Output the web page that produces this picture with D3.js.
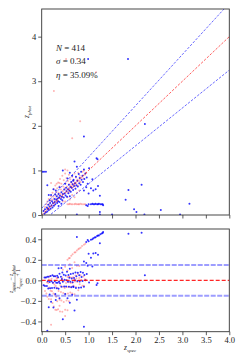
<!DOCTYPE html>
<html>
<head>
<meta charset="utf-8">
<script src="https://cdn.jsdelivr.net/npm/d3@7"></script>
<style>
  body { margin: 0; background: #fff; }
  svg { display: block; }
  text { font-family: "Liberation Serif", "DejaVu Serif", serif; fill: #222; }
</style>
</head>
<body>
<svg width="240" height="360"></svg>
<script>
// spectroscopic vs photometric redshift, two samples [zspec, zphot]
const bluePoints = [
  [0.04,0.09],[0.06,0.03],[0.07,0.13],[0.09,0.06],[0.11,0.17],[0.12,0.08],[0.13,0.14],[0.14,0.23],
  [0.15,0.11],[0.17,0.19],[0.18,0.27],[0.19,0.14],[0.21,0.22],[0.22,0.31],[0.23,0.17],[0.24,0.27],
  [0.26,0.21],[0.27,0.36],[0.28,0.29],[0.29,0.24],[0.31,0.34],[0.32,0.42],[0.33,0.27],[0.34,0.37],
  [0.35,0.31],[0.36,0.47],[0.37,0.39],[0.38,0.29],[0.39,0.43],[0.41,0.36],[0.42,0.51],[0.43,0.41],
  [0.44,0.33],[0.45,0.47],[0.47,0.39],[0.48,0.57],[0.49,0.48],[0.51,0.44],[0.52,0.61],[0.53,0.53],
  [0.54,0.41],[0.56,0.58],[0.57,0.49],[0.58,0.68],[0.59,0.55],[0.61,0.63],[0.62,0.52],[0.63,0.74],
  [0.64,0.61],[0.66,0.69],[0.67,0.56],[0.68,0.79],[0.69,0.65],[0.71,0.71],[0.72,0.59],[0.73,0.86],
  [0.74,0.67],[0.76,0.77],[0.77,0.64],[0.79,0.92],[0.8,0.71],[0.81,0.83],[0.83,0.68],[0.84,0.97],
  [0.85,0.79],[0.87,0.88],[0.88,0.74],[0.9,1.02],[0.91,0.81],[0.93,0.93],[0.96,0.84],[0.29,0.46],
  [0.42,0.25],[0.5,0.7],[0.6,0.42],[0.36,0.2],[0.17,0.33],[0.65,0.88],[0.67,0.77],[1.01,1.05],
  [1.19,1.25],[1.17,1.27],[0.02,0.97],[0.05,0.97],[0.09,0.97],
  [1.0,0.48],[1.05,0.6],[0.95,0.62],[1.1,0.55],[1.2,0.65],[0.98,0.7],[1.08,0.8],[0.9,0.55],
  [1.0,0.24],[1.05,0.24],[1.08,0.25],[1.1,0.24],[1.13,0.24],[1.15,0.25],[1.18,0.24],[1.2,0.24],
  [1.22,0.25],[1.25,0.24],[1.28,0.24],[1.3,0.24],[0.95,0.22],[0.98,0.2],
  [2.13,0.68],[1.85,0.56],[1.79,0.34],[1.24,0.43],[1.15,0.58],[1.31,0.22],[1.24,0.07],[1.97,0.13],
  [2.02,0.07],[2.54,0.11],[3.15,0.25],[1.5,0.01],[2.19,0.01],[2.95,0.01],[0.75,0.01],[1.24,0.01],
  [2.2,2.04],[0.99,3.5],[1.84,3.5],[0.9,1.76],
  [0.12,0.67],[0.15,0.45],[0.45,1.0],[0.7,1.2],[0.75,1.08],[0.3,0.55],[0.25,0.58],[0.38,0.62],
  [0.55,0.82],[0.6,0.95],[0.2,0.45]
];
const redPoints = [
  [0.05,0.1],[0.07,0.18],[0.08,0.05],[0.1,0.24],[0.11,0.13],[0.12,0.3],[0.14,0.17],[0.15,0.36],
  [0.16,0.24],[0.17,0.12],[0.19,0.31],[0.2,0.42],[0.21,0.19],[0.22,0.35],[0.23,0.5],[0.24,0.27],
  [0.25,0.41],[0.26,0.58],[0.27,0.32],[0.28,0.46],[0.29,0.66],[0.3,0.37],[0.31,0.52],[0.32,0.29],
  [0.33,0.6],[0.34,0.44],[0.35,0.73],[0.36,0.5],[0.37,0.38],[0.38,0.64],[0.39,0.81],[0.4,0.47],
  [0.41,0.57],[0.42,0.7],[0.43,0.42],[0.44,0.88],[0.45,0.54],[0.46,0.64],[0.47,0.78],[0.48,0.49],
  [0.49,0.6],[0.5,0.93],[0.51,0.71],[0.52,0.56],[0.53,0.83],[0.54,0.64],[0.55,0.5],[0.56,0.76],
  [0.57,0.6],[0.58,0.9],[0.59,0.69],[0.6,0.55],[0.61,0.8],[0.62,0.66],[0.63,0.73],[0.64,0.6],
  [0.65,0.86],[0.66,0.7],[0.67,0.62],[0.68,0.77],[0.69,0.68],[0.7,0.93],[0.71,0.73],[0.72,0.64],
  [0.73,0.84],[0.74,0.71],[0.76,0.79],[0.77,0.66],[0.78,0.95],[0.8,0.76],[0.81,0.88],[0.83,0.74],
  [0.85,0.84],[0.87,0.97],[0.89,0.82],[0.92,0.9],[0.95,0.94],[0.34,0.31],[0.44,0.4],[0.58,0.52],
  [0.27,0.22],[0.15,0.14],
  [0.55,0.24],[0.58,0.24],[0.6,0.25],[0.63,0.24],[0.66,0.24],[0.7,0.24],[0.72,0.25],[0.75,0.24],
  [0.78,0.24],[0.8,0.24],[0.83,0.25],[0.86,0.24],[0.9,0.24],[0.93,0.24],
  [0.5,0.3],[0.6,0.35],[0.7,0.4],[0.65,0.45],[0.75,0.5],[0.8,0.55],[0.45,0.3],[0.55,0.4],
  [0.26,2.78],[0.82,2.1],[0.65,1.72],[1.16,3.2],[0.52,3.5],[0.75,3.5],[0.55,1.0],[0.2,0.72],
  [0.32,0.7],[0.38,0.72],[0.5,1.02],[0.9,1.0]
];
const mainTicksY = [0, 1, 2, 3, 4];
const residTicksY = [-0.4, -0.2, 0.0, 0.2, 0.4];
const ticksX = [0, 0.5, 1, 1.5, 2, 2.5, 3, 3.5, 4];
const statLines = ["N = 414", "σ = 0.34", "η = 35.09%"];

const svg = d3.select('svg');
const x = d3.scaleLinear().domain([0, 4]).range([41.7, 229.3]);
const yTop = d3.scaleLinear().domain([0, 4.62]).range([215, 9]);
const yBot = d3.scaleLinear().domain([-0.5, 0.5]).range([331.7, 229]);
const resid = d => (d[0] - d[1]) / (1 + d[0]);

svg.append('defs').call(defs => {
  defs.append('clipPath').attr('id', 'ct').append('rect')
    .attr('x', 41.7).attr('y', 9).attr('width', 187.6).attr('height', 206);
  defs.append('clipPath').attr('id', 'cb').append('rect')
    .attr('x', 41.7).attr('y', 229).attr('width', 187.6).attr('height', 102.7);
});

// top panel
const topG = svg.append('g').attr('clip-path', 'url(#ct)');
topG.selectAll('circle.r').data(redPoints).join('circle')
  .attr('class', 'r').attr('cx', d => x(d[0])).attr('cy', d => yTop(d[1]))
  .attr('r', 1).attr('fill', 'rgba(255,40,40,0.35)');
topG.selectAll('circle.b').data(bluePoints).join('circle')
  .attr('class', 'b').attr('cx', d => x(d[0])).attr('cy', d => yTop(d[1]))
  .attr('r', 1).attr('fill', 'rgba(0,0,255,0.8)');

const lineTop = (f, color) => topG.append('line')
  .attr('x1', x(0)).attr('y1', yTop(f(0))).attr('x2', x(4)).attr('y2', yTop(f(4)))
  .attr('stroke', color).attr('stroke-width', 0.8).attr('stroke-dasharray', '2.5,1.5');
lineTop(z => z, 'rgba(255,0,0,0.8)');
lineTop(z => z + 0.15 * (1 + z), 'rgba(0,0,255,0.75)');
lineTop(z => z - 0.15 * (1 + z), 'rgba(0,0,255,0.75)');

// bottom panel
const botG = svg.append('g').attr('clip-path', 'url(#cb)');
botG.selectAll('circle.r').data(redPoints).join('circle')
  .attr('class', 'r').attr('cx', d => x(d[0])).attr('cy', d => yBot(resid(d)))
  .attr('r', 1).attr('fill', 'rgba(255,40,40,0.35)');
botG.selectAll('circle.b').data(bluePoints).join('circle')
  .attr('class', 'b').attr('cx', d => x(d[0])).attr('cy', d => yBot(resid(d)))
  .attr('r', 1).attr('fill', 'rgba(0,0,255,0.8)');
[0.15, -0.15].forEach(v => botG.append('line')
  .attr('x1', x(0)).attr('x2', x(4)).attr('y1', yBot(v)).attr('y2', yBot(v))
  .attr('stroke', 'rgba(60,60,255,0.5)').attr('stroke-width', 2).attr('stroke-dasharray', '5,1.5'));
botG.append('line')
  .attr('x1', x(0)).attr('x2', x(4)).attr('y1', yBot(0)).attr('y2', yBot(0))
  .attr('stroke', 'rgba(255,0,0,0.85)').attr('stroke-width', 1.1).attr('stroke-dasharray', '4,2');

// axes
const axStyle = g => {
  g.select('.domain').remove();
  g.selectAll('line').attr('stroke', '#333').attr('stroke-width', 0.8);
  g.selectAll('text').attr('font-size', 8.5).attr('fill', '#222')
    .style('font-family', '"Liberation Serif", serif');
};
svg.append('g').attr('transform', 'translate(41.7,0)')
  .call(d3.axisLeft(yTop).tickValues(mainTicksY).tickSize(3.5).tickPadding(2).tickFormat(d3.format('d')))
  .call(axStyle);
svg.append('g').attr('transform', 'translate(0,215)')
  .call(d3.axisBottom(x).tickValues(ticksX).tickSize(3.5).tickFormat(''))
  .call(axStyle);
svg.append('g').attr('transform', 'translate(41.7,0)')
  .call(d3.axisLeft(yBot).tickValues(residTicksY).tickSize(3.5).tickPadding(2)
    .tickFormat(d => d3.format('.1f')(d).replace('-', '\u2212')))
  .call(axStyle);
svg.append('g').attr('transform', 'translate(0,331.7)')
  .call(d3.axisBottom(x).tickValues(ticksX).tickSize(3.5).tickPadding(2).tickFormat(d3.format('.1f')))
  .call(axStyle);

// frames
[[9, 215], [229, 331.7]].forEach(([y0, y1]) => svg.append('rect')
  .attr('x', 41.7).attr('y', y0).attr('width', 187.6).attr('height', y1 - y0)
  .attr('fill', 'none').attr('stroke', '#333').attr('stroke-width', 0.9));

// stats text
svg.selectAll('text.stat').data(statLines).join('text')
  .attr('class', 'stat').attr('x', 56).attr('y', (d, i) => 50.5 + i * 13.5)
  .attr('font-size', 9)
  .each(function(d) {
    const [sym, ...rest] = d.split(' ');
    const t = d3.select(this);
    t.append('tspan').attr('font-style', 'italic').text(sym);
    t.append('tspan').text(' ' + rest.join(' '));
  });

// axis labels
const zlab = (sel, sub) => {
  sel.append('tspan').attr('font-style', 'italic').text('z');
  sel.append('tspan').attr('font-style', 'italic').attr('font-size', 5).attr('dy', 1.5).text(sub);
};
svg.append('text').attr('x', 130).attr('y', 350).attr('text-anchor', 'middle')
  .attr('font-size', 7.5).call(zlab, 'spec');
svg.append('text').attr('transform', 'translate(29,112) rotate(-90)').attr('text-anchor', 'middle')
  .attr('font-size', 7.5).call(zlab, 'phot');

const frac = svg.append('g').attr('transform', 'translate(15,279) rotate(-90)');
const num = frac.append('text').attr('y', -2).attr('text-anchor', 'middle').attr('font-size', 5.5);
zlab(num, 'spec'); num.append('tspan').attr('dy', -1.5).text(' \u2212 ');
zlab(num, 'phot');
frac.append('line').attr('x1', -13).attr('x2', 13).attr('y1', 0).attr('y2', 0)
  .attr('stroke', '#333').attr('stroke-width', 0.4);
const den = frac.append('text').attr('y', 5).attr('text-anchor', 'middle').attr('font-size', 5.5);
zlab(den, 'spec'); den.append('tspan').attr('dy', -1.5).text(' + 1');
</script>
</body>
</html>
